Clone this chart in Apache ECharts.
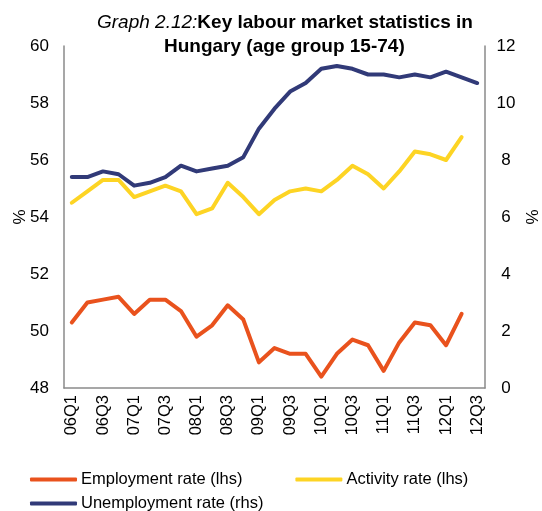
<!DOCTYPE html>
<html>
<head>
<meta charset="utf-8">
<style>
  html, body { margin: 0; padding: 0; background: #fff; }
  #chart { width: 542px; height: 511px; }
</style>
<script src="https://cdn.jsdelivr.net/npm/echarts@6/dist/echarts.min.js"></script>
</head>
<body>
<div id="chart"></div>
<script>
// Quarterly labour market indicators, Hungary, age 15-74
const quarters = [
  '06Q1','06Q2','06Q3','06Q4',
  '07Q1','07Q2','07Q3','07Q4',
  '08Q1','08Q2','08Q3','08Q4',
  '09Q1','09Q2','09Q3','09Q4',
  '10Q1','10Q2','10Q3','10Q4',
  '11Q1','11Q2','11Q3','11Q4',
  '12Q1','12Q2','12Q3'
];

// Left-hand scale (%)
const employmentRate = [
  50.3, 51.0, 51.1, 51.2, 50.6, 51.1, 51.1, 50.7,
  49.8, 50.2, 50.9, 50.4, 48.9, 49.4, 49.2, 49.2,
  48.4, 49.2, 49.7, 49.5, 48.6, 49.6, 50.3, 50.2,
  49.5, 50.6
];
const activityRate = [
  54.5, 54.9, 55.3, 55.3, 54.7, 54.9, 55.1, 54.9,
  54.1, 54.3, 55.2, 54.7, 54.1, 54.6, 54.9, 55.0,
  54.9, 55.3, 55.8, 55.5, 55.0, 55.6, 56.3, 56.2,
  56.0, 56.8
];

// Right-hand scale (%)
const unemploymentRate = [
  7.4, 7.4, 7.6, 7.5, 7.1, 7.2, 7.4, 7.8,
  7.6, 7.7, 7.8, 8.1, 9.1, 9.8, 10.4, 10.7,
  11.2, 11.3, 11.2, 11.0, 11.0, 10.9, 11.0, 10.9,
  11.1, 10.9, 10.7
];

const FONT = "'Liberation Sans', Arial, sans-serif";
const AXIS_GREY = '#8a8a8a';
const C_EMP = '#E9521D';
const C_ACT = '#FDD424';
const C_UNEMP = '#313A78';

const chart = echarts.init(document.getElementById('chart'), null, { renderer: 'canvas' });

const lineSeries = (name, data, color, yAxisIndex) => ({
  name,
  type: 'line',
  data,
  yAxisIndex,
  symbol: 'none',
  smooth: false,
  lineStyle: { width: 4, color, cap: 'round', join: 'round' },
  itemStyle: { color },
  emphasis: { disabled: true }
});

const TITLE_SIZE = 19;
const titleRich = {
  i: { fontFamily: FONT, fontSize: TITLE_SIZE, fontStyle: 'italic', fontWeight: 'normal', color: '#000' },
  b: { fontFamily: FONT, fontSize: TITLE_SIZE, fontWeight: 'bold', color: '#000' }
};

const legendText = { fontFamily: FONT, fontSize: 16.5, color: '#000', padding: [0, 0, 0, -1] };

chart.setOption({
  animation: false,
  textStyle: { fontFamily: FONT, color: '#000' },
  // two-line heading
  title: [
    {
      left: 97,
      top: 13,
      padding: 0,
      text: '{i|Graph 2.12:}{b|Key labour market statistics in}',
      textStyle: { fontFamily: FONT, fontSize: TITLE_SIZE, color: '#000', rich: titleRich }
    },
    {
      left: 164,
      top: 37,
      padding: 0,
      text: '{b|Hungary (age group 15-74)}',
      textStyle: { fontFamily: FONT, fontSize: TITLE_SIZE, color: '#000', rich: titleRich }
    }
  ],
  legend: [
    {
      data: ['Employment rate (lhs)', 'Activity rate (lhs)'],
      left: 30,
      top: 471,
      padding: 0,
      itemWidth: 47,
      itemHeight: 4,
      itemGap: 53,
      icon: 'roundRect',
      textStyle: legendText
    },
    {
      data: ['Unemployment rate (rhs)'],
      left: 30,
      top: 495,
      padding: 0,
      itemWidth: 47,
      itemHeight: 4,
      icon: 'roundRect',
      textStyle: legendText
    }
  ],
  grid: {
    left: 64,
    right: 57,
    top: 46,
    bottom: 123,
    containLabel: false,
    outerBoundsMode: 'none'
  },
  xAxis: {
    type: 'category',
    data: quarters,
    boundaryGap: true,
    axisLine: { show: true, lineStyle: { color: AXIS_GREY, width: 1.5 } },
    axisTick: { show: false },
    splitLine: { show: false },
    axisLabel: {
      interval: 1,
      rotate: 90,
      margin: 7,
      fontFamily: FONT,
      fontSize: 16.5,
      color: '#000'
    }
  },
  yAxis: [
    {
      type: 'value',
      min: 48,
      max: 60,
      interval: 2,
      name: '%',
      nameLocation: 'middle',
      nameRotate: 90,
      nameGap: 35,
      nameMoveOverlap: false,
      nameTextStyle: { fontFamily: FONT, fontSize: 17, color: '#000' },
      axisLine: { show: true, lineStyle: { color: AXIS_GREY, width: 1.5 } },
      axisTick: { show: false },
      splitLine: { show: false },
      axisLabel: { margin: 15, fontFamily: FONT, fontSize: 17, color: '#000' }
    },
    {
      type: 'value',
      min: 0,
      max: 12,
      interval: 2,
      name: '%',
      nameLocation: 'middle',
      nameRotate: 90,
      nameGap: 40,
      nameMoveOverlap: false,
      nameTextStyle: { fontFamily: FONT, fontSize: 17, color: '#000' },
      axisLine: { show: true, lineStyle: { color: AXIS_GREY, width: 1.5 } },
      axisTick: { show: false },
      splitLine: { show: false },
      axisLabel: { margin: 21, align: 'center', fontFamily: FONT, fontSize: 17, color: '#000' }
    }
  ],
  series: [
    lineSeries('Employment rate (lhs)', employmentRate, C_EMP, 0),
    lineSeries('Activity rate (lhs)', activityRate, C_ACT, 0),
    lineSeries('Unemployment rate (rhs)', unemploymentRate, C_UNEMP, 1)
  ]
});
</script>
</body>
</html>
